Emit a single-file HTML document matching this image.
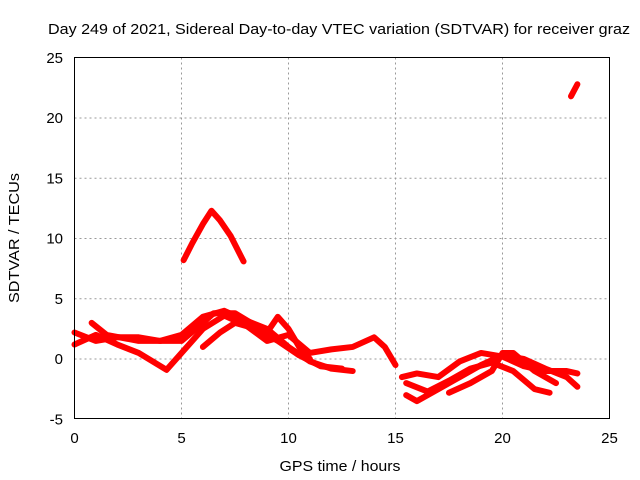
<!DOCTYPE html>
<html><head><meta charset="utf-8"><style>
body{margin:0;background:#fff}
svg{display:block;font-family:"Liberation Sans",sans-serif;font-size:15px}
</style></head><body>
<svg id="chart" width="640" height="480">
<text x="339" y="34" text-anchor="middle" textLength="582" lengthAdjust="spacingAndGlyphs">Day 249 of 2021, Sidereal Day-to-day VTEC variation (SDTVAR) for receiver graz</text>
<g id="grid"></g>
<g id="series"></g>
<rect x="74.5" y="57.5" width="535" height="361" fill="none" stroke="#000" stroke-width="1"/>
<g id="ticks"></g>
<text x="340" y="471" text-anchor="middle" textLength="121" lengthAdjust="spacingAndGlyphs">GPS time / hours</text>
<text transform="translate(19,238) rotate(-90)" text-anchor="middle" textLength="130" lengthAdjust="spacingAndGlyphs">SDTVAR / TECUs</text>
</svg>
<script>
const xTicks=[0,5,10,15,20,25];
const yTicks=[-5,0,5,10,15,20,25];
const trackArcT=[5.1,5.5,6.0,6.4,6.8,7.3,7.9];
const trackArcV=[8.2,9.6,11.2,12.3,11.5,10.2,8.1];
const trackTopT=[23.2,23.5];
const trackTopV=[21.8,22.8];
const trackAT=[0,1,2,3,4,5,6,7,8,9,10,11,12,13];
const trackAV=[2.2,1.5,1.8,1.8,1.5,2,3.5,4,3.2,2.5,1,-0.2,-0.8,-1];
const trackBT=[0,1,2,3,4.3,5,6,7,8,9,10,11,12,13,14,14.5,15];
const trackBV=[1.2,2,1.2,0.5,-0.9,0.5,2.5,3.6,2.8,1.5,2,0.5,0.8,1,1.8,1,-0.5];
const trackCT=[0.8,1.5,3,5,6,6.5,7.5,9,9.5,10,10.5,11];
const trackCV=[3,2,1.5,1.5,3,3.8,3.8,2.2,3.5,2.5,1,0];
const trackDT=[6,6.8,7.5,8.5,9.5,10.5,11.5,12.5];
const trackDV=[1,2.2,3,2.5,1.5,0.3,-0.6,-0.8];
const trackET=[15.3,16,17,18,19,20,21,22,23,23.5];
const trackEV=[-1.5,-1.2,-1.5,-0.2,0.5,0.2,-0.6,-1,-1,-1.2];
const trackFT=[15.5,16,17,18,19,20,21,22,23,23.5];
const trackFV=[-3,-3.5,-2.5,-1.5,-0.5,0.3,0,-0.8,-1.5,-2.3];
const trackGT=[15.5,16.5,17.5,18.5,19.5,20.5,21.5,22.2];
const trackGV=[-2,-2.7,-1.8,-0.8,-0.3,-1,-2.5,-2.8];
const trackHT=[17.5,18.5,19.5,20,20.5,21.5,22.5];
const trackHV=[-2.8,-2,-1,0.5,0.5,-1,-2];
const tracks=[[trackArcT,trackArcV],[trackTopT,trackTopV],[trackAT,trackAV],[trackBT,trackBV],[trackCT,trackCV],[trackDT,trackDV],[trackET,trackEV],[trackFT,trackFV],[trackGT,trackGV],[trackHT,trackHV]];
const X=t=>74.5+t*21.4;
const Y=v=>359-v*12.05;
const NS="http://www.w3.org/2000/svg";
const grid=document.getElementById('grid'),ticks=document.getElementById('ticks'),ser=document.getElementById('series');
function mk(tag,attrs,parent){const e=document.createElementNS(NS,tag);for(const k in attrs)e.setAttribute(k,attrs[k]);parent.appendChild(e);return e;}
xTicks.forEach(t=>{
 if(t>0&&t<25){const l=mk('line',{x1:X(t),x2:X(t),y1:57.5,y2:418.5,stroke:'#999','stroke-dasharray':'2,3'},grid);
 
 }
 const tx=mk('text',{x:X(t),y:443,'text-anchor':'middle'},ticks);tx.textContent=t;
 
 
});
yTicks.forEach(v=>{
 if(v>-5&&v<25){const l=mk('line',{x1:74.5,x2:609.5,y1:Y(v),y2:Y(v),stroke:'#999','stroke-dasharray':'2,3'},grid);
 
 }
 const tx=mk('text',{x:63,y:Y(v)+5,'text-anchor':'end'},ticks);tx.textContent=v;
 
 
});
tracks.forEach(([ts,vs])=>{
 const p=mk('polyline',{points:ts.map((t,i)=>X(t)+','+Y(vs[i])).join(' '),fill:'none',stroke:'#f00','stroke-width':6,'stroke-linejoin':'round','stroke-linecap':'round'},ser);
 
 
});
</script>
</body></html>
